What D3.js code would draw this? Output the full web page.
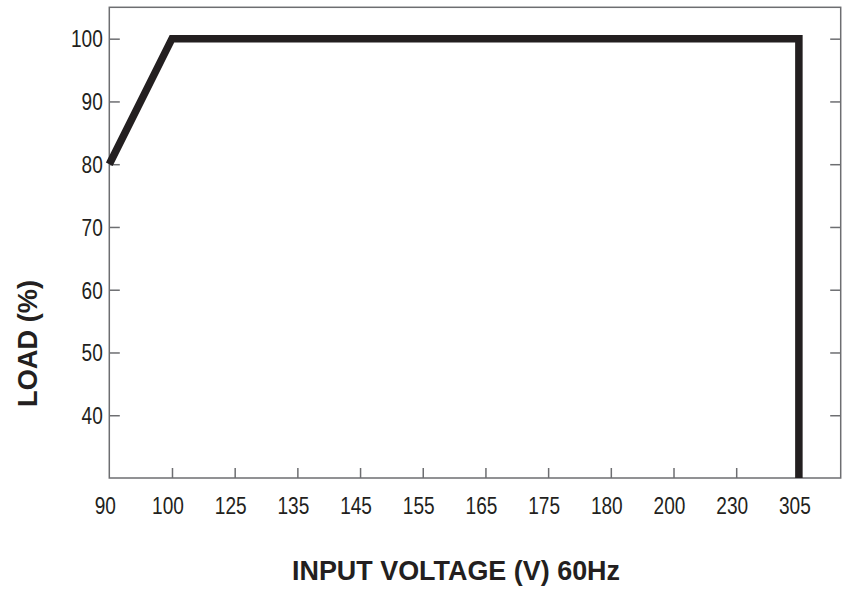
<!DOCTYPE html>
<html>
<head>
<meta charset="utf-8">
<script src="https://cdn.jsdelivr.net/npm/d3@7"></script>
<style>
  html, body { margin: 0; padding: 0; background: #fff; }
  svg { display: block; }
  text { font-family: "Liberation Sans", Arial, sans-serif; fill: #231f20; }
</style>
</head>
<body>
<svg id="chart" width="859" height="591"></svg>
<script>
// ---- data ----
const xLabels = ["90", "100", "125", "135", "145", "155", "165", "175", "180", "200", "230", "305"];
const yTicks = [40, 50, 60, 70, 80, 90, 100];
const curveVoltage = ["90", "100", "305", "305"];
const curveLoad = [80, 100, 100, 30];
const xTitle = "INPUT VOLTAGE (V) 60Hz";
const yTitle = "LOAD (%)";

// ---- layout ----
const svg = d3.select("#chart");
const pL = 109.3, pR = 840.7, pT = 7.3, pB = 478;
const frameColor = "#6d6e71";
const digitW = 10.6;

const x = d3.scaleLinear().domain([0, 11.667]).range([pL, pR]);
const xPos = v => x(xLabels.indexOf(v));
const y = d3.scaleLinear().domain([30, 105]).range([pB, pT]);

// frame
svg.append("rect")
  .attr("x", pL).attr("y", pT)
  .attr("width", pR - pL).attr("height", pB - pT)
  .attr("fill", "none").attr("stroke", frameColor).attr("stroke-width", 1.5);

// left axis
const gl = svg.append("g").attr("transform", `translate(${pL},0)`)
  .call(d3.axisLeft(y).tickValues(yTicks).tickSizeInner(-10.5).tickSizeOuter(0).tickPadding(7));
gl.select(".domain").remove();
gl.selectAll(".tick line").attr("stroke", frameColor).attr("stroke-width", 1.5);
gl.selectAll(".tick text").attr("font-size", "23px").attr("fill", "#231f20")
  .attr("x", -6.5).attr("dy", "0.36em")
  .attr("textLength", d => String(d).length * digitW).attr("lengthAdjust", "spacingAndGlyphs");

// right axis ticks
const gr = svg.append("g").attr("transform", `translate(${pR},0)`)
  .call(d3.axisRight(y).tickValues(yTicks).tickSizeInner(-10.5).tickSizeOuter(0).tickFormat(""));
gr.select(".domain").remove();
gr.selectAll(".tick line").attr("stroke", frameColor).attr("stroke-width", 1.5);

// bottom axis
const gb = svg.append("g").attr("transform", `translate(0,${pB})`)
  .call(d3.axisBottom(x).tickValues(d3.range(xLabels.length))
    .tickFormat(i => xLabels[i]).tickSizeInner(-10).tickSizeOuter(0).tickPadding(0));
gb.select(".domain").remove();
gb.selectAll(".tick line").attr("stroke", frameColor).attr("stroke-width", 1.5)
  .attr("opacity", (d, i) => i === 0 ? 0 : 1);
gb.selectAll(".tick text").attr("font-size", "23px").attr("fill", "#231f20")
  .attr("y", 36).attr("dy", 0).attr("x", -4.5)
  .attr("textLength", i => xLabels[i].length * digitW).attr("lengthAdjust", "spacingAndGlyphs");

// curve
const pts = curveVoltage.map((v, i) => [xPos(v), y(curveLoad[i])]);
svg.append("path")
  .attr("d", d3.line()(pts))
  .attr("fill", "none")
  .attr("stroke", "#231f20")
  .attr("stroke-width", 7.5)
  .attr("stroke-linejoin", "miter")
  .attr("stroke-linecap", "butt");

// titles
svg.append("text")
  .attr("x", 292).attr("y", 580)
  .attr("font-size", "27px").attr("font-weight", "bold")
  .attr("textLength", 328).attr("lengthAdjust", "spacingAndGlyphs")
  .text(xTitle);

svg.append("text")
  .attr("transform", "translate(37,407) rotate(-90)")
  .attr("font-size", "27px").attr("font-weight", "bold")
  .attr("textLength", 127).attr("lengthAdjust", "spacingAndGlyphs")
  .text(yTitle);
</script>
</body>
</html>
